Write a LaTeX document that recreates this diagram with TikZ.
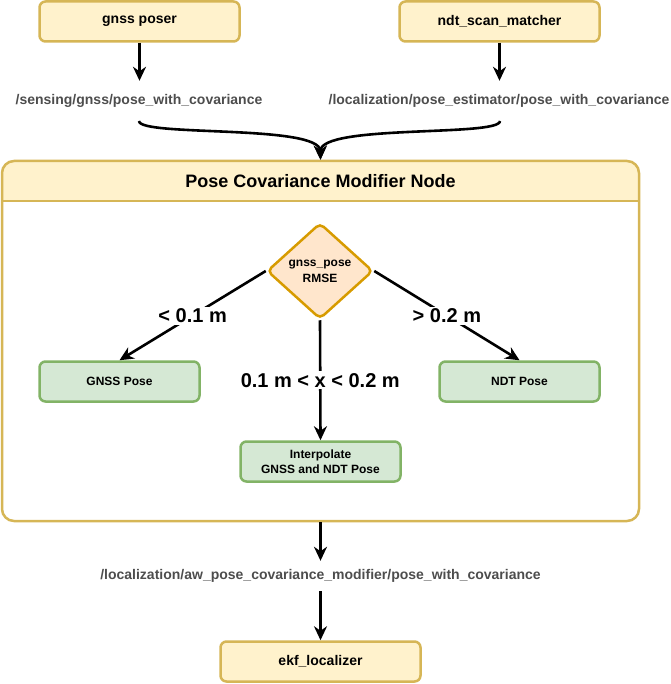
\documentclass[tikz,border=0pt]{standalone}
\usepackage{fontspec}
\setmainfont{Liberation Sans}
\usetikzlibrary{arrows.meta,shapes.geometric}
\definecolor{yfill}{HTML}{FFF2CC}
\definecolor{ystroke}{HTML}{D6B656}
\definecolor{gfill}{HTML}{D5E8D4}
\definecolor{gstroke}{HTML}{82B366}
\definecolor{ofill}{HTML}{FFE6CC}
\definecolor{ostroke}{HTML}{D79B00}
\definecolor{topicgray}{HTML}{4D4D4D}
\newcommand\fsz[2]{\fontsize{#1}{#2}\selectfont}
\tikzset{
  ybox/.style={draw=ystroke, fill=yfill, line width=2.5pt, rounded corners=6pt,
    minimum width=200pt, minimum height=40pt, inner sep=0pt, font=\fsz{14}{17}\bfseries},
  gbox/.style={draw=gstroke, fill=gfill, line width=2.5pt, rounded corners=6pt,
    minimum width=160pt, minimum height=40pt, inner sep=0pt, align=center, font=\fsz{12}{15}\bfseries},
  decision/.style={diamond, draw=ostroke, fill=ofill, line width=2.5pt, rounded corners=5pt,
    minimum width=106pt, minimum height=96pt, inner sep=0pt, align=center, font=\fsz{12}{16}\bfseries},
  topic/.style={text=topicgray, font=\fsz{14}{17}\bfseries, inner sep=0pt},
  arr/.style={draw=black, line width=2.6pt, -{Stealth[length=14pt, width=13pt, inset=4.5pt]}},
  elab/.style={fill=white, text=black, font=\fsz{20}{24}\bfseries, inner sep=2pt, pos=0.5},
  container/.style={draw=ystroke, line width=2.5pt, rounded corners=12pt,
    minimum width=637pt, minimum height=360pt, inner sep=0pt},
}
\begin{document}
\begin{tikzpicture}[x=1pt,y=-1pt]
\useasboundingbox (0,0) rectangle (670,684);

% top source boxes
\node[ybox] (gnssposer) at (139.5,21.5) {gnss poser};
\node[ybox] (ndt) at (499.5,21.5) {ndt\_scan\_matcher};

% topic labels
\node[topic, minimum height=40pt] (t1) at (139,101) {/sensing/gnss/pose\_with\_covariance};
\node[topic, minimum height=40pt] (t2) at (499,101) {/localization/pose\_estimator/pose\_with\_covariance};

\draw[arr] (gnssposer.south) -- (gnssposer.south |- t1.north);
\draw[arr] (ndt.south) -- (ndt.south |- t2.north);

% container
\fill[yfill] (2,201) [rounded corners=12pt]-- (2,161) -- (639,161) [sharp corners]-- (639,201) -- cycle;
\node[container] (mod) at (320.5,341) {};
\draw[ystroke, line width=2.5pt] (2,201) -- (639,201);
\node[font=\fsz{18}{21}\bfseries, inner sep=0pt] (title) at (320.5,181) {Pose Covariance Modifier Node};

% merging curves
\coordinate (t1s) at (139,121);
\coordinate (t2s) at (500,121);
\draw[arr] (t1s) .. controls (139,137) and (320,124) .. (mod.north);
\draw[arr] (t2s) .. controls (500,137) and (320,124) .. (mod.north);

% decision
\node[decision] (dec) at (320,271) {gnss\_pose\\RMSE};

\node[gbox] (gp) at (119.5,381.5) {GNSS Pose};
\node[gbox] (np) at (519.5,381.5) {NDT Pose};
\node[gbox] (ip) at (320.5,461.5) {Interpolate\\GNSS and NDT Pose};

\draw[arr] (dec.west) -- node[elab] {< 0.1 m} (gp.north);
\draw[arr] (dec.east) -- node[elab] {> 0.2 m} (np.north);
\draw[arr] (dec.south) -- node[elab] {0.1 m < x < 0.2 m} (ip.north);

% output
\node[topic, minimum height=30pt] (t3) at (320.5,576) {/localization/aw\_pose\_covariance\_modifier/pose\_with\_covariance};
\node[ybox] (ekf) at (320.5,661.5) {ekf\_localizer};

\draw[arr] (mod.south) -- (mod.south |- t3.north);
\draw[arr] (t3.south) -- (ekf.north);
\end{tikzpicture}
\end{document}
